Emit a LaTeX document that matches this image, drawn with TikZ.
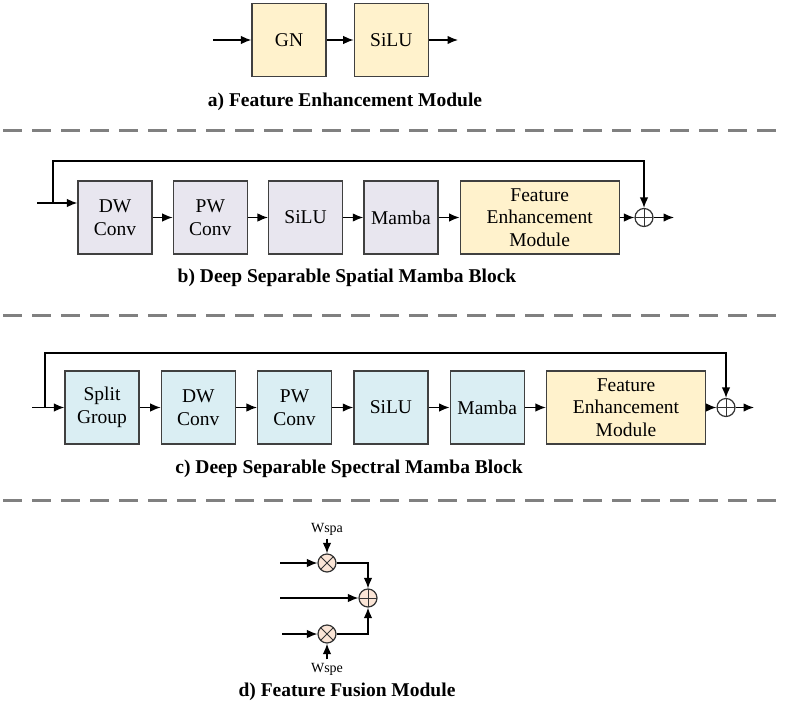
\documentclass[tikz,border=0pt]{standalone}
\usepackage{fontspec}
\setmainfont{Liberation Serif}
\usetikzlibrary{arrows.meta,positioning}

\definecolor{femyellow}{RGB}{255,242,204}
\definecolor{spagray}{RGB}{232,230,239}
\definecolor{speblue}{RGB}{218,238,243}
\definecolor{fusepeach}{RGB}{251,229,214}

\begin{document}
\begin{tikzpicture}[x=1pt,y=-1pt,
    blk/.style={draw=black!75, line width=1.3pt, minimum width=74pt, minimum height=73pt,
      inner sep=0pt, align=center, font=\fontsize{19.5}{22.5}\selectfont},
    femblk/.style={blk, fill=femyellow, minimum width=159pt},
    arr/.style={line width=1.3pt, -{Latex[length=10.5pt,width=8.5pt]}},
    ttl/.style={font=\fontsize{19.5}{22}\selectfont\bfseries},
    opsum/.style={circle, draw=black!80, line width=1.2pt, minimum size=18pt, inner sep=0pt,
      path picture={\draw[line width=1pt] (path picture bounding box.north) -- (path picture bounding box.south)
        (path picture bounding box.west) -- (path picture bounding box.east);}},
    opmul/.style={circle, draw=black!80, line width=1.2pt, minimum size=18pt, inner sep=0pt,
      path picture={\draw[line width=1pt] (path picture bounding box.north west) -- (path picture bounding box.south east)
        (path picture bounding box.south west) -- (path picture bounding box.north east);}},
    sep/.style={draw=black!50, line width=3pt, dash pattern=on 19pt off 10pt}]
  \useasboundingbox (0,0) rectangle (786,706);

  % a) feature enhancement module
  \node[blk, fill=femyellow] (gn) at (289,40) {GN};
  \node[blk, fill=femyellow, right=27pt of gn] (asilu) {SiLU};
  \coordinate (ain) at (213,40);
  \coordinate (aout) at (458,40);
  \draw[arr] (ain) -- (gn);
  \draw[arr] (gn) -- (asilu);
  \draw[arr] (asilu) -- (aout);
  \node[ttl] (atitle) at (345,102) {a) Feature Enhancement Module};

  \draw[sep] (3,130) -- (786,130);

  % b) spatial mamba block
  \node[blk, fill=spagray] (bdw) at (115,217.5) {DW\\Conv};
  \node[blk, fill=spagray, right=20pt of bdw] (bpw) {PW\\Conv};
  \node[blk, fill=spagray, right=20pt of bpw] (bsilu) {SiLU};
  \node[blk, fill=spagray, right=20pt of bsilu] (bmamba) {Mamba};
  \node[femblk, right=21pt of bmamba] (bfem) {Feature\\Enhancement\\Module};
  \node[opsum, fill=white] (bsum) at (644,217.5) {};
  \coordinate (bin) at (37,203);
  \coordinate (bsplit) at (53,203);
  \coordinate (bout) at (674,217.5);
  \draw[arr] (bin) -- (bin -| bdw.west);
  \draw[arr] (bsplit) -- (53,161) -| (bsum);
  \draw[arr] (bdw) -- (bpw);
  \draw[arr] (bpw) -- (bsilu);
  \draw[arr] (bsilu) -- (bmamba);
  \draw[arr] (bmamba) -- (bfem);
  \draw[arr] (bfem) -- (bsum);
  \draw[arr] (bsum) -- (bout);
  \node[ttl] (btitle) at (347,278) {b) Deep Separable Spatial Mamba Block};

  \draw[sep] (3,315) -- (786,315);

  % c) spectral mamba block
  \node[blk, fill=speblue] (csplit) at (102,407.5) {Split\\Group};
  \node[blk, fill=speblue, right=21pt of csplit] (cdw) {DW\\Conv};
  \node[blk, fill=speblue, right=21pt of cdw] (cpw) {PW\\Conv};
  \node[blk, fill=speblue, right=21pt of cpw] (csilu) {SiLU};
  \node[blk, fill=speblue, right=21pt of csilu] (cmamba) {Mamba};
  \node[femblk, right=21pt of cmamba] (cfem) {Feature\\Enhancement\\Module};
  \node[opsum, fill=white] (csum) at (726,407.5) {};
  \coordinate (cin) at (32,407.5);
  \coordinate (cfork) at (45,407.5);
  \coordinate (cout) at (754,407.5);
  \draw[arr] (cin) -- (csplit);
  \draw[arr] (cfork) -- (45,353) -| (csum);
  \draw[arr] (csplit) -- (cdw);
  \draw[arr] (cdw) -- (cpw);
  \draw[arr] (cpw) -- (csilu);
  \draw[arr] (csilu) -- (cmamba);
  \draw[arr] (cmamba) -- (cfem);
  \draw[arr] (cfem) -- (csum);
  \draw[arr] (csum) -- (cout);
  \node[ttl] (ctitle) at (349,469) {c) Deep Separable Spectral Mamba Block};

  \draw[sep] (3,500) -- (786,500);

  % d) feature fusion module
  \node[opmul, fill=fusepeach] (dmul1) at (327,563) {};
  \node[opsum, fill=fusepeach] (dsum) at (368,598) {};
  \node[opmul, fill=fusepeach] (dmul2) at (327,634) {};
  \node[font=\fontsize{14}{16}\selectfont] (wspa) at (327,529) {Wspa};
  \node[font=\fontsize{14}{16}\selectfont] (wspe) at (327,669) {Wspe};
  \coordinate (din1) at (280,563);
  \coordinate (din2) at (280,598);
  \coordinate (din3) at (282,634);
  \draw[arr] (din1) -- (dmul1);
  \draw[arr] (din2) -- (dsum);
  \draw[arr] (din3) -- (dmul2);
  \draw[arr] (wspa) -- (dmul1);
  \draw[arr] (wspe) -- (dmul2);
  \draw[arr] (dmul1) -| (dsum);
  \draw[arr] (dmul2) -| (dsum);
  \node[ttl] (dtitle) at (347,692) {d) Feature Fusion Module};
\end{tikzpicture}
\end{document}
